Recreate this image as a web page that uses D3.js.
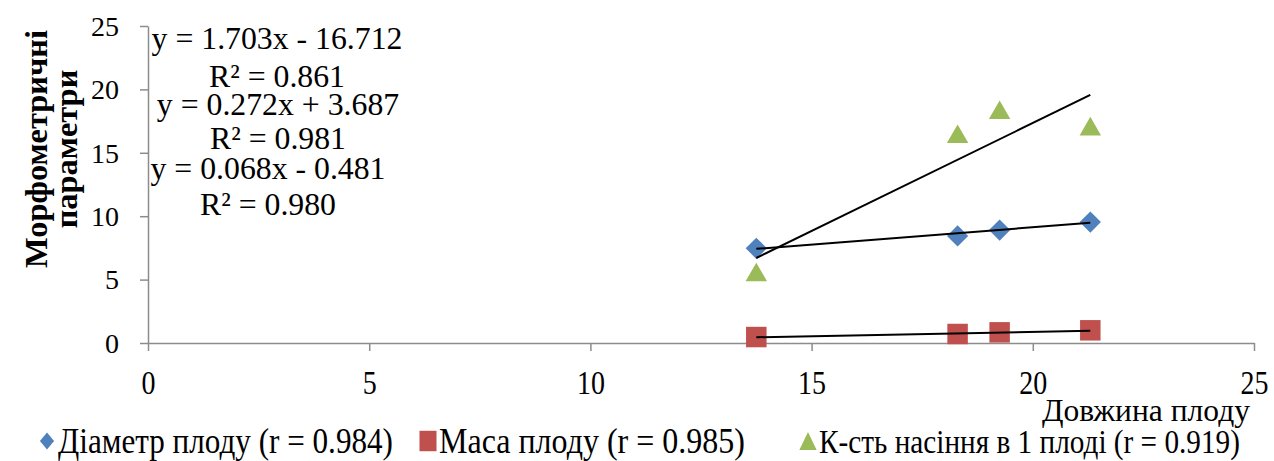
<!DOCTYPE html>
<html>
<head>
<meta charset="utf-8">
<script src="https://cdn.jsdelivr.net/npm/d3@7"></script>
<style>
  body { margin: 0; background: #fff; }
</style>
</head>
<body>
<svg></svg>
<script>
// data
var lengths = [13.75, 18.3, 19.25, 21.3];
var diameter = [7.47, 8.44, 8.91, 9.54];
var mass = [0.47, 0.71, 0.84, 1.0];
var seeds = [5.6, 16.5, 18.4, 17.1];

var seriesNames = ['Діаметр плоду (r = 0.984)', 'Маса плоду (r = 0.985)', 'К-сть насіння в 1 плоді (r = 0.919)'];
var seriesColors = ['#4F81BD', '#C0504D', '#9BBB59'];

// trendline coefficients as printed on the chart (diameter, mass, seeds)
var slopes = [0.272, 0.068, 1.703];
var intercepts = [3.687, -0.481, -16.712];

var labels = [
  ['y = 1.703x - 16.712', 'R² = 0.861'],
  ['y = 0.272x + 3.687', 'R² = 0.981'],
  ['y = 0.068x - 0.481', 'R² = 0.980']
];

var ticks = [0, 5, 10, 15, 20, 25];

var FONT = '"Liberation Serif"';

var svgWidth = 1274;
var svgHeight = 461;

var svg = d3.select('svg')
  .attr('width', svgWidth)
  .attr('height', svgHeight);

var x = d3.scaleLinear().domain([0, 25]).range([148, 1254]);
var y = d3.scaleLinear().domain([0, 25]).range([343, 26]);

var axisColor = '#8c8c8c';

// shrink / grow a font size so the text is as wide as the picture shows it
function fit(sel, target) {
  var w = sel.node().getComputedTextLength();
  var fs = +sel.attr('font-size');
  if (w > 0) sel.attr('font-size', fs * target / w);
}

/*
axes
*/
var xAxis = svg.append('g')
  .attr('transform', 'translate(0,' + y(0) + ')')
  .call(d3.axisBottom(x).tickValues(ticks).tickSize(8).tickSizeOuter(0));
xAxis.select('.domain').attr('stroke', axisColor).attr('stroke-width', 1.5);
xAxis.selectAll('.tick line').attr('stroke', axisColor).attr('stroke-width', 1.5);
xAxis.selectAll('.tick text')
  .attr('y', 0).attr('dy', null)
  .attr('transform', 'translate(0,51) scale(1,1.2)')
  .attr('font-size', 28).attr('fill', '#000')
  .style('font-family', FONT);

var yAxis = svg.append('g')
  .attr('transform', 'translate(' + x(0) + ',0)')
  .call(d3.axisLeft(y).tickValues(ticks).tickSize(8).tickSizeOuter(0).tickPadding(21));
yAxis.select('.domain').attr('stroke', axisColor).attr('stroke-width', 1.5);
yAxis.selectAll('.tick text').attr('font-size', 28).attr('fill', '#000')
  .attr('dy', '0.33em')
  .style('font-family', FONT);
yAxis.selectAll('.tick line').attr('stroke', axisColor).attr('stroke-width', 1.5);

// y title, two lines
var t1 = svg.append('text')
  .attr('transform', 'translate(47,149) rotate(-90)')
  .attr('text-anchor', 'middle')
  .attr('font-size', 28)
  .attr('font-weight', 'bold')
  .style('font-family', FONT)
  .text('Морфометричні');
fit(t1, 238);
svg.append('text')
  .attr('transform', 'translate(77,149) rotate(-90)')
  .attr('text-anchor', 'middle')
  .attr('font-size', t1.attr('font-size'))
  .attr('font-weight', 'bold')
  .style('font-family', FONT)
  .text('параметри');

// x title
var xt = svg.append('text')
  .attr('x', 1250)
  .attr('y', 421)
  .attr('text-anchor', 'end')
  .attr('font-size', 30)
  .style('font-family', FONT)
  .text('Довжина плоду');
fit(xt, 208);

/*
trendlines and markers
*/
var allSeries = [diameter, mass, seeds];
var xmin = d3.min(lengths), xmax = d3.max(lengths);

var line = d3.line()
  .x(function(d) { return x(d[0]); })
  .y(function(d) { return y(d[1]); });

var marks = svg.append('g');
var trends = svg.append('g');

slopes.forEach(function(m, i) {
  var pts = [xmin, xmax].map(function(v) { return [v, m * v + intercepts[i]]; });
  trends.append('path')
    .datum(pts)
    .attr('fill', 'none')
    .attr('stroke', '#000')
    .attr('stroke-width', 2)
    .attr('d', line);
});

function marker(i, big) {
  // diamond = square turned 45deg, triangle moved so its box is centred
  if (i == 0) return { d: d3.symbol().type(d3.symbolSquare).size(big ? 225 : 100)(), t: ' rotate(45)' };
  if (i == 1) return { d: d3.symbol().type(d3.symbolSquare).size(big ? 420 : 290)(), t: '' };
  var s = big ? 200 : 130;
  var h = Math.sqrt(s / (Math.sqrt(3) * 3));
  return { d: d3.symbol().type(d3.symbolTriangle).size(s)(), t: ' translate(0,' + (h / 2) + ')' };
}

allSeries.forEach(function(vals, i) {
  var mk = marker(i, true);
  marks.append('g')
    .selectAll('path')
    .data(vals)
    .enter().append('path')
    .attr('transform', function(d, j) {
      return 'translate(' + x(lengths[j]) + ',' + y(d) + ')' + mk.t;
    })
    .attr('d', mk.d)
    .attr('fill', seriesColors[i]);
});

/*
equation labels
*/
var labelCx = [277, 278, 268];
var labelBase = [[49, 87], [115, 149], [179, 215]];
var eqTexts = [];
labels.forEach(function(pair, i) {
  pair.forEach(function(txt, k) {
    eqTexts.push(svg.append('text')
      .attr('x', labelCx[i]).attr('y', labelBase[i][k])
      .attr('text-anchor', 'middle')
      .attr('font-size', 27)
      .style('font-family', FONT)
      .text(txt));
  });
});
fit(eqTexts[0], 251);
eqTexts.forEach(function(t) { t.attr('font-size', eqTexts[0].attr('font-size')); });

/*
legend
*/
var legendX = [47, 428, 808];
var legendW = [335, 306, 421];
seriesNames.forEach(function(name, i) {
  var g = svg.append('g').attr('transform', 'translate(' + legendX[i] + ',441)');
  var mk = marker(i, false);
  g.append('path')
    .attr('transform', 'scale(1,1.2)' + mk.t)
    .attr('d', mk.d)
    .attr('fill', seriesColors[i]);
  var t = g.append('text')
    .attr('transform', 'translate(11,12) scale(1,1.12)')
    .attr('font-size', 28)
    .style('font-family', FONT)
    .text(name);
  fit(t, legendW[i]);
});
</script>
</body>
</html>
